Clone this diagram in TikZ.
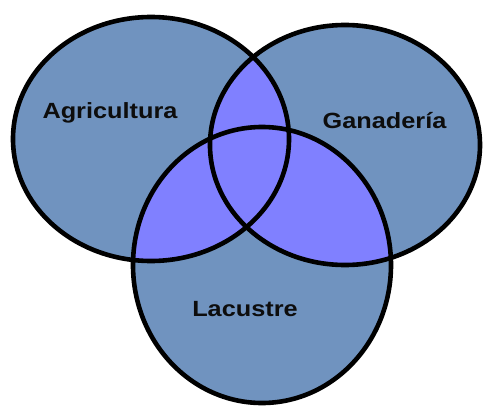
\documentclass[tikz,border=0pt]{standalone}
\usepackage{fontspec}
\newfontfamily\vennfont{Liberation Sans}[FakeStretch=1.15]
\definecolor{setblue}{RGB}{112,147,191}
\definecolor{overlapblue}{RGB}{128,128,255}
\tikzset{
  setlabel/.style={anchor=base, inner sep=0pt, text=black!95,
    font=\vennfont\bfseries\fontsize{22}{26}\selectfont},
  setborder/.style={draw=black, line width=4.6pt}
}

\begin{document}
\begin{tikzpicture}[x=1pt,y=-1pt]
  \useasboundingbox (0,0) rectangle (483,407);
  \def\agri{(151,139) ellipse [x radius=138, y radius=122]}
  \def\gana{(345,145) ellipse [x radius=135, y radius=120]}
  \def\lacu{(262,265) ellipse [x radius=129, y radius=138]}

  % Sets
  \fill[setblue] \agri;
  \fill[setblue] \gana;
  \fill[setblue] \lacu;

  % Overlaps
  \begin{scope}
    \clip \agri;
    \fill[overlapblue] \gana;
    \fill[overlapblue] \lacu;
  \end{scope}
  \begin{scope}
    \clip \gana;
    \fill[overlapblue] \lacu;
  \end{scope}

  % Borders
  \draw[setborder] \agri;
  \draw[setborder] \gana;
  \draw[setborder] \lacu;

  % Labels
  \node[setlabel] (agricultura) at (110,118) {Agricultura};
  \node[setlabel] (ganaderia) at (384.5,128) {Ganadería};
  \node[setlabel] (lacustre) at (245,316) {Lacustre};
\end{tikzpicture}
\end{document}
